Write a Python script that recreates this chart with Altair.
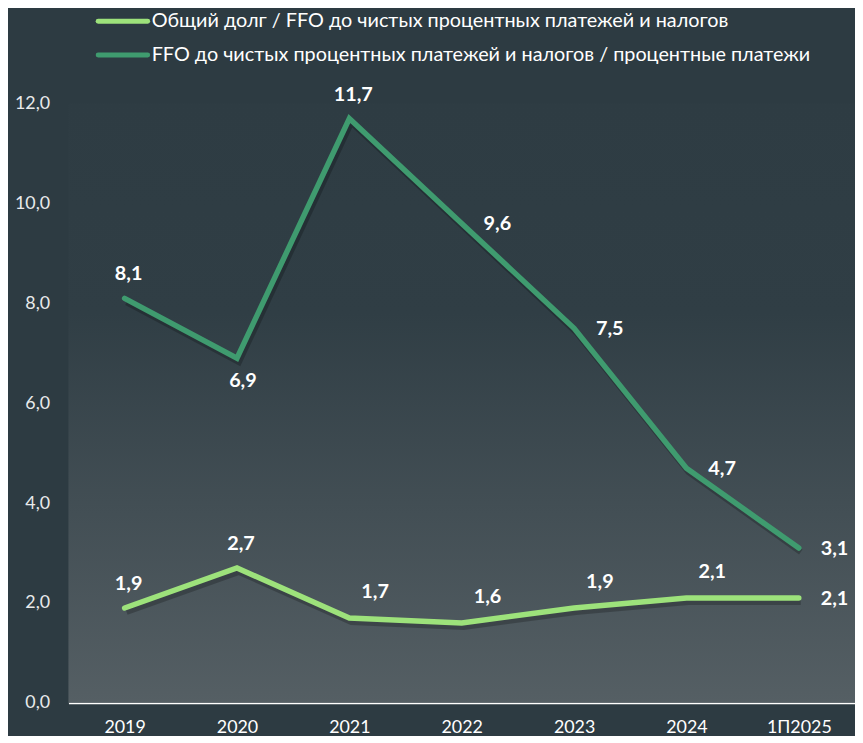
import altair as alt
import pandas as pd

years = ["2019", "2020", "2021", "2022", "2023", "2024", "1П2025"]
debt_to_ffo = [1.9, 2.7, 1.7, 1.6, 1.9, 2.1, 2.1]
ffo_to_interest = [8.1, 6.9, 11.7, 9.6, 7.5, 4.7, 3.1]

s1 = "Общий долг / FFO до чистых процентных платежей и налогов"
s2 = "FFO до чистых процентных платежей и налогов / процентные платежи"
series_names = [s1, s2]
series_colors = ["#9de27b", "#3f9b6f"]

# label placement (style) per point
place1 = ["above", "above", "aboveright", "aboveright", "aboveright", "aboveright", "right"]
place2 = ["above", "below", "above", "right", "right", "right", "right"]

df = pd.DataFrame({
    "year": years * 2,
    "value": debt_to_ffo + ffo_to_interest,
    "series": [s1] * len(years) + [s2] * len(years),
    "place": place1 + place2,
})

W, H = 794, 605
FONT = "Lato"

x_enc = alt.X(
    "year:N", sort=years,
    scale=alt.Scale(type="point", padding=0.5, domain=years),
    axis=alt.Axis(title=None, labelAngle=0, domainColor="#ffffff", domainWidth=2,
                  ticks=False, grid=False, labelColor="#ffffff", labelFont=FONT,
                  labelFontSize=18, labelPadding=16),
)
y_enc = alt.Y(
    "value:Q",
    scale=alt.Scale(domain=[0, 12], nice=False),
    axis=alt.Axis(title=None, domain=False, ticks=False, grid=False,
                  values=[0, 2, 4, 6, 8, 10, 12], format=".1f",
                  labelExpr="replace(datum.label, '.', ',')",
                  labelColor="#e8eaeb", labelFont=FONT, labelFontSize=18,
                  labelPadding=19),
)

bg = alt.Chart(pd.DataFrame({"a": [0]})).mark_rect(
    color=alt.Gradient(
        gradient="linear",
        stops=[alt.GradientStop(offset=0, color="#2e3c43"),
               alt.GradientStop(offset=0.35, color="#303e45"),
               alt.GradientStop(offset=1, color="#555f64")],
        x1=0, x2=0, y1=0, y2=1,
    )
).encode(x=alt.value(0), x2=alt.value(W), y=alt.value(0), y2=alt.value(H))

base = alt.Chart(df).encode(x=x_enc, y=y_enc)

shadow = base.mark_line(color="#000000", opacity=0.22, strokeWidth=6,
                        xOffset=2, yOffset=4).encode(detail="series:N")

lines = base.mark_line(strokeWidth=5.5, strokeCap="round").encode(
    color=alt.Color(
        "series:N",
        scale=alt.Scale(domain=series_names, range=series_colors),
        legend=None,
    )
)

offsets = {
    "above": (4, -24),
    "below": (6, 23),
    "right": (36, 1),
    "aboveright": (26, -26),
}

texts = []
for p, (dx, dy) in offsets.items():
    texts.append(
        base.transform_filter(alt.datum.place == p)
        .transform_calculate(label="replace(format(datum.value, '.1f'), '.', ',')")
        .mark_text(font=FONT, fontSize=20, fontWeight="bold", color="#ffffff",
                   dx=dx, dy=dy, baseline="middle", align="center")
        .encode(text="label:N")
    )

# manual legend above the plot area
legend_layers = []
for i, (name, col) in enumerate(zip(series_names, series_colors)):
    yy = -83 + 34 * i
    ldf = pd.DataFrame({"s": [name]})
    legend_layers.append(
        alt.Chart(ldf).mark_rule(strokeWidth=5, strokeCap="round", color=col)
        .encode(x=alt.value(30), x2=alt.value(80), y=alt.value(yy))
    )
    legend_layers.append(
        alt.Chart(ldf).mark_text(align="left", baseline="middle", font=FONT,
                                 fontSize=20, color="#ffffff")
        .encode(x=alt.value(84), y=alt.value(yy), text="s:N")
    )

chart = alt.layer(bg, shadow, lines, *texts, *legend_layers).properties(
    width=W, height=H,
    autosize=alt.AutoSizeParams(type="none"),
    padding={"left": 61, "top": 93, "right": 0, "bottom": 30},
    background="#2d3b42",
).configure_view(stroke=None)

chart.save("out.html", embed_options={"renderer": "svg", "actions": False})
